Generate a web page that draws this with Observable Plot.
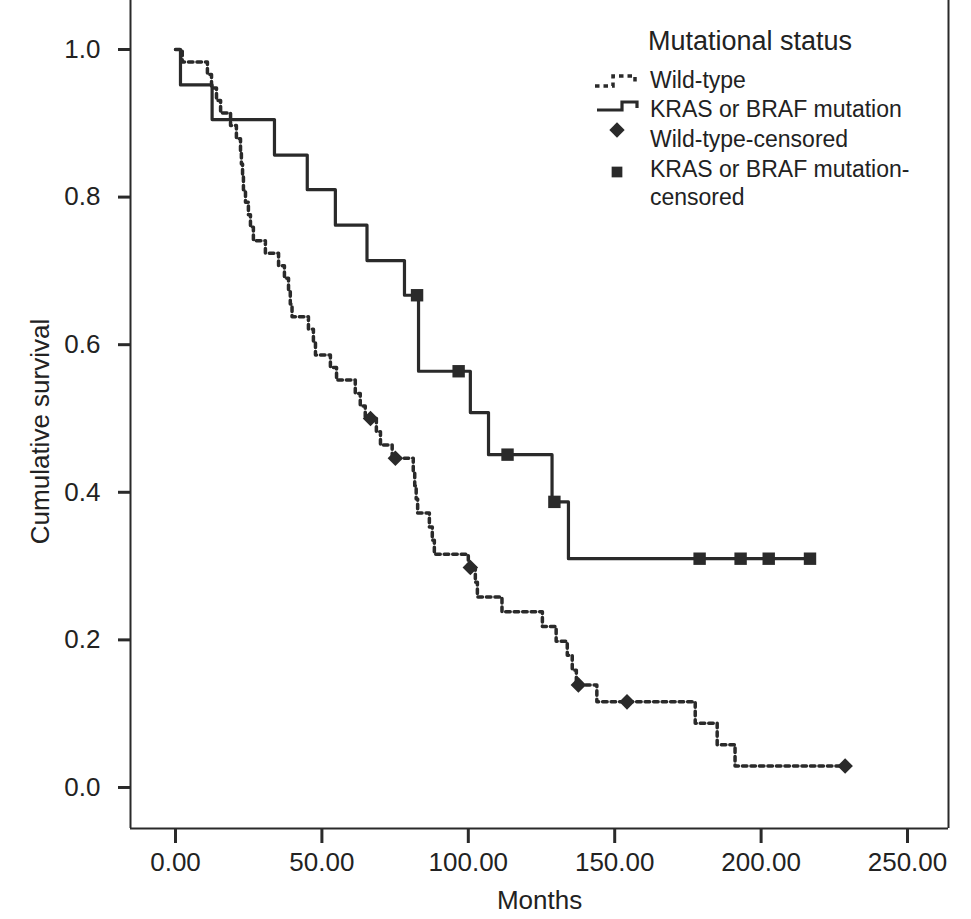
<!DOCTYPE html>
<html><head><meta charset="utf-8">
<script src="https://cdn.jsdelivr.net/npm/d3@7"></script>
<script src="https://cdn.jsdelivr.net/npm/@observablehq/plot@0.6"></script>
<style>
body{margin:0;background:#fff;}
#wrap{position:relative;width:971px;height:919px;font-family:"Liberation Sans",Arial,sans-serif;}
#legend{position:absolute;left:0;top:0;}
</style></head><body>
<div id="wrap"><div id="chart"></div><svg id="legend" width="971" height="230"></svg></div>
<script>
// Wild-type Kaplan–Meier steps (months, cumulative survival after each step)
const wtTime = [0, 2.3, 10.9, 12.3, 14.0, 15.4, 18.8, 20.8, 22.2, 22.5, 22.9, 23.2, 23.9, 24.9, 25.6, 26.6, 30.7, 35.2, 37.2, 38.6, 39.2, 39.8, 45.4, 47.1, 47.8, 52.9, 55.0, 61.4, 63.1, 64.8, 68.6, 70.0, 74.0, 81.2, 81.7, 82.2, 82.7, 86.7, 87.7, 88.4, 100.0, 102.4, 103.1, 111.5, 125.3, 130.0, 133.8, 135.5, 136.9, 143.9, 177.5, 185.0, 191.1, 228.7];
const wtSurv = [1.000, 0.983, 0.966, 0.948, 0.931, 0.914, 0.897, 0.879, 0.862, 0.845, 0.828, 0.810, 0.793, 0.776, 0.759, 0.741, 0.724, 0.707, 0.690, 0.672, 0.655, 0.638, 0.621, 0.603, 0.586, 0.569, 0.552, 0.534, 0.517, 0.500, 0.482, 0.464, 0.446, 0.428, 0.409, 0.391, 0.372, 0.353, 0.335, 0.316, 0.298, 0.278, 0.258, 0.238, 0.218, 0.198, 0.179, 0.159, 0.139, 0.116, 0.087, 0.058, 0.029, 0.029];
const wtCensorTime = [66.6, 75.1, 100.7, 137.6, 154.2, 228.7];
const wtCensorSurv = [0.500, 0.446, 0.298, 0.139, 0.116, 0.029];

// KRAS or BRAF mutation steps
const krasTime = [0, 1.7, 12.5, 33.8, 45.0, 54.6, 65.4, 78.2, 83.0, 100.7, 106.9, 128.6, 134.2, 216.7];
const krasSurv = [1.000, 0.952, 0.905, 0.857, 0.810, 0.762, 0.714, 0.667, 0.564, 0.508, 0.451, 0.387, 0.310, 0.310];
const krasCensorTime = [82.5, 96.7, 113.4, 129.4, 179.0, 193.0, 202.6, 216.7];
const krasCensorSurv = [0.667, 0.564, 0.451, 0.387, 0.310, 0.310, 0.310, 0.310];

const xTicks = [0, 50, 100, 150, 200, 250];
const yTicks = [0, 0.2, 0.4, 0.6, 0.8, 1.0];
const legendTitle = "Mutational status";
const legendLabels = ["Wild-type", "KRAS or BRAF mutation", "Wild-type-censored", "KRAS or BRAF mutation-", "censored"];

const ink = "#2a2a2a";
const xDomain = [-15.37, 264.0];
const yDomain = [-0.0556, 1.0664];

const wt = wtTime.map((t, i) => ({t, s: wtSurv[i]}));
const kr = krasTime.map((t, i) => ({t, s: krasSurv[i]}));
const wtC = wtCensorTime.map((t, i) => ({t, s: wtCensorSurv[i]}));
const krC = krasCensorTime.map((t, i) => ({t, s: krasCensorSurv[i]}));

const chart = Plot.plot({
  width: 971, height: 919,
  marginLeft: 130, marginRight: 23, marginTop: 0, marginBottom: 91,
  style: {fontFamily: "'Liberation Sans', Arial, sans-serif", fontSize: "26px", color: "#222", background: "#fff"},
  x: {domain: xDomain, label: null},
  y: {domain: yDomain, label: null},
  marks: [
    Plot.ruleX([xDomain[0]], {stroke: ink, strokeWidth: 2}),
    Plot.ruleX([xDomain[1]], {stroke: ink, strokeWidth: 2}),
    Plot.ruleY([yDomain[0]], {stroke: ink, strokeWidth: 2}),
    Plot.axisX(xTicks, {tickFormat: d3.format(".2f"), tickSize: 15, tickPadding: 9, strokeWidth: 3, stroke: ink, fontSize: 26, label: null}),
    Plot.axisY(yTicks, {tickFormat: d3.format(".1f"), tickSize: 12, tickPadding: 18, strokeWidth: 3, stroke: ink, fontSize: 26, label: null}),
    Plot.line(wt, {x: "t", y: "s", curve: "step-after", stroke: ink, strokeWidth: 3.5, strokeDasharray: "4.5,4"}),
    Plot.line(kr, {x: "t", y: "s", curve: "step-after", stroke: ink, strokeWidth: 3.2}),
    Plot.dot(wtC, {x: "t", y: "s", symbol: "diamond2", r: 7, fill: ink, stroke: "none"}),
    Plot.dot(krC, {x: "t", y: "s", symbol: "square", r: 7, fill: ink, stroke: "none"}),
    Plot.text(["Months"], {frameAnchor: "bottom", dy: 80, fontSize: 26, fill: "#222"}),
    Plot.text(["Cumulative survival"], {frameAnchor: "left", textAnchor: "middle", dx: -90, dy: 17, rotate: -90, fontSize: 26, fill: "#222"})
  ]
});
document.getElementById("chart").append(chart);

// Legend (inside the plot area, top right)
const lg = d3.select("#legend");
lg.append("text").attr("x", 648).attr("y", 50).attr("font-size", 27).attr("fill", "#222").text(legendTitle);
const baselines = [88, 117, 147, 177, 205];
legendLabels.forEach((lab, i) => {
  lg.append("text").attr("x", 650).attr("y", baselines[i]).attr("font-size", 23).attr("fill", "#222").text(lab);
});
lg.append("path").attr("d", "M595,86H613V76H635V82").attr("fill", "none").attr("stroke", ink).attr("stroke-width", 3.5).attr("stroke-dasharray", "4.5,4");
lg.append("path").attr("d", "M597,110H622V102H637V108").attr("fill", "none").attr("stroke", ink).attr("stroke-width", 3.2);
lg.append("path").attr("d", d3.symbol(d3.symbolDiamond2, 150)()).attr("transform", "translate(617,130)").attr("fill", ink);
lg.append("path").attr("d", d3.symbol(d3.symbolSquare, 115)()).attr("transform", "translate(617,172)").attr("fill", ink);
</script>
</body></html>
